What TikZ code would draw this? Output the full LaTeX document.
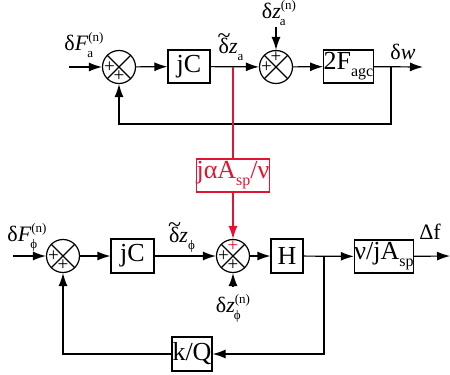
\documentclass[tikz,border=0pt]{standalone}
\usepackage{fontspec}
\setmainfont{Liberation Serif}
\usetikzlibrary{arrows.meta,calc}
\definecolor{sigred}{RGB}{225,20,50}
\newcommand{\ssc}[2]{\rlap{\hspace{-1pt}\raisebox{-7pt}{\fontsize{13}{13}\selectfont #2}}\raisebox{9pt}{\fontsize{13}{13}\selectfont #1}}
\newcommand{\sbx}[1]{\raisebox{-7pt}{\fontsize{16}{16}\selectfont #1}}
\newcommand{\tdz}{\makebox[0pt][l]{\hspace{-1pt}\raisebox{10pt}{\fontsize{24}{24}\selectfont\char`~}}δ\textit{z}}
\begin{document}
\begin{tikzpicture}[x=1pt,y=-1pt,
  line width=1.2pt,
  >={Latex[length=13pt,width=9pt]},
  blk/.style={draw,rectangle,inner sep=0pt,font=\fontsize{26}{26}\selectfont},
  sumnode/.style={circle,draw,minimum size=33pt,inner sep=0pt,
    path picture={\draw[line width=1.2pt] ([shift={(45:17pt)}]path picture bounding box.center) -- ([shift={(225:17pt)}]path picture bounding box.center);
    \draw[line width=1.2pt] ([shift={(135:17pt)}]path picture bounding box.center) -- ([shift={(315:17pt)}]path picture bounding box.center);}},
  sg/.style={font=\fontsize{19}{19}\selectfont,inner sep=0pt},
  lbl/.style={font=\fontsize{22}{22}\selectfont,inner sep=0pt}]
\useasboundingbox (0,0) rectangle (450,375);

% top row
\coordinate (in1) at (69,67);
\node[sumnode] (s1) at (119,67) {};
\node[blk,minimum width=42pt,minimum height=33pt] (jc1) at (189,66.5) {jC};
\node[sumnode] (s2) at (276,67) {};
\node[blk,minimum width=49pt,minimum height=33pt] (fagc) at (348.5,66.5) {2F\sbx{agc}};
\coordinate (out1) at (423,67);
\coordinate (br1) at (391,67);
\coordinate (tap1) at (233,67);
\coordinate (n1) at (276,27);

\node[sg] at ($(s1)+(-9.5,0)$) {+};
\node[sg] at ($(s1)+(0,9.5)$) {+};
\node[sg] at ($(s2)+(-9.5,0)$) {+};
\node[sg] at ($(s2)+(0,-9.5)$) {+};

\draw[->] (in1) -- (s1);
\draw[->] (s1) -- (jc1);
\draw[->] (jc1) -- (s2);
\draw[->] (s2) -- (fagc);
\draw[->] (fagc) -- (out1);
\draw[->] (n1) -- (s2);
\draw[->] (br1) |- (250,124) -| (s1);

% red coupling
\node[blk,draw=sigred,text=sigred,minimum width=72pt,minimum height=33pt] (cpl) at (233,175.5) {jαA\sbx{sp}/ν};

% bottom row
\coordinate (in2) at (13,256);
\node[sumnode] (s4) at (63,256) {};
\node[blk,minimum width=43pt,minimum height=34pt] (jc2) at (132.5,256) {jC};
\node[sumnode] (s3) at (233,256) {};
\node[blk,minimum width=32pt,minimum height=34pt] (hh) at (287,256) {H};
\node[blk,minimum width=56pt,minimum height=33pt] (nu) at (384,256.5) {ν/jA\sbx{sp}};
\coordinate (out2) at (450,256);
\coordinate (br2) at (324,256);
\node[blk,minimum width=40pt,minimum height=34pt] (kq) at (192,354) {k/Q};
\coordinate (n2) at (233,286);

\node[sg] at ($(s4)+(-9.5,0)$) {+};
\node[sg] at ($(s4)+(0,9.5)$) {+};
\node[sg] at ($(s3)+(-9.5,0)$) {+};
\node[sg] at ($(s3)+(0,9.5)$) {+};
\node[sg,text=sigred] at ($(s3)+(0,-9.5)$) {+};

\draw[sigred] (tap1) -- (cpl);
\draw[sigred,->] (cpl) -- (s3);

\draw[->] (in2) -- (s4);
\draw[->] (s4) -- (jc2);
\draw[->] (jc2) -- (s3);
\draw[->] (s3) -- (hh);
\draw[->] (hh) -- (nu);
\draw[->] (nu) -- (out2);
\draw[->] (n2) -- (s3);
\draw[->] (br2) |- (kq);
\draw[->] (kq) -| (s4);

% labels
\node[lbl] at (84,45) {δ\textit{F}\ssc{(n)}{a}};
\node[lbl] at (231,47) {\tdz\raisebox{-7pt}{\fontsize{13}{13}\selectfont a}};
\node[lbl] at (279,13) {δ\textit{z}\ssc{(n)}{a}};
\node[lbl] at (403,52) {δ\textit{w}};
\node[lbl] at (430,232) {Δf};
\node[lbl] at (27,237) {δ\textit{F}\ssc{(n)}{ϕ}};
\node[lbl] at (182,237) {\tdz\raisebox{-7pt}{\fontsize{13}{13}\selectfont ϕ}};
\node[lbl] at (233,308) {δ\textit{z}\ssc{(n)}{ϕ}};
\end{tikzpicture}
\end{document}
